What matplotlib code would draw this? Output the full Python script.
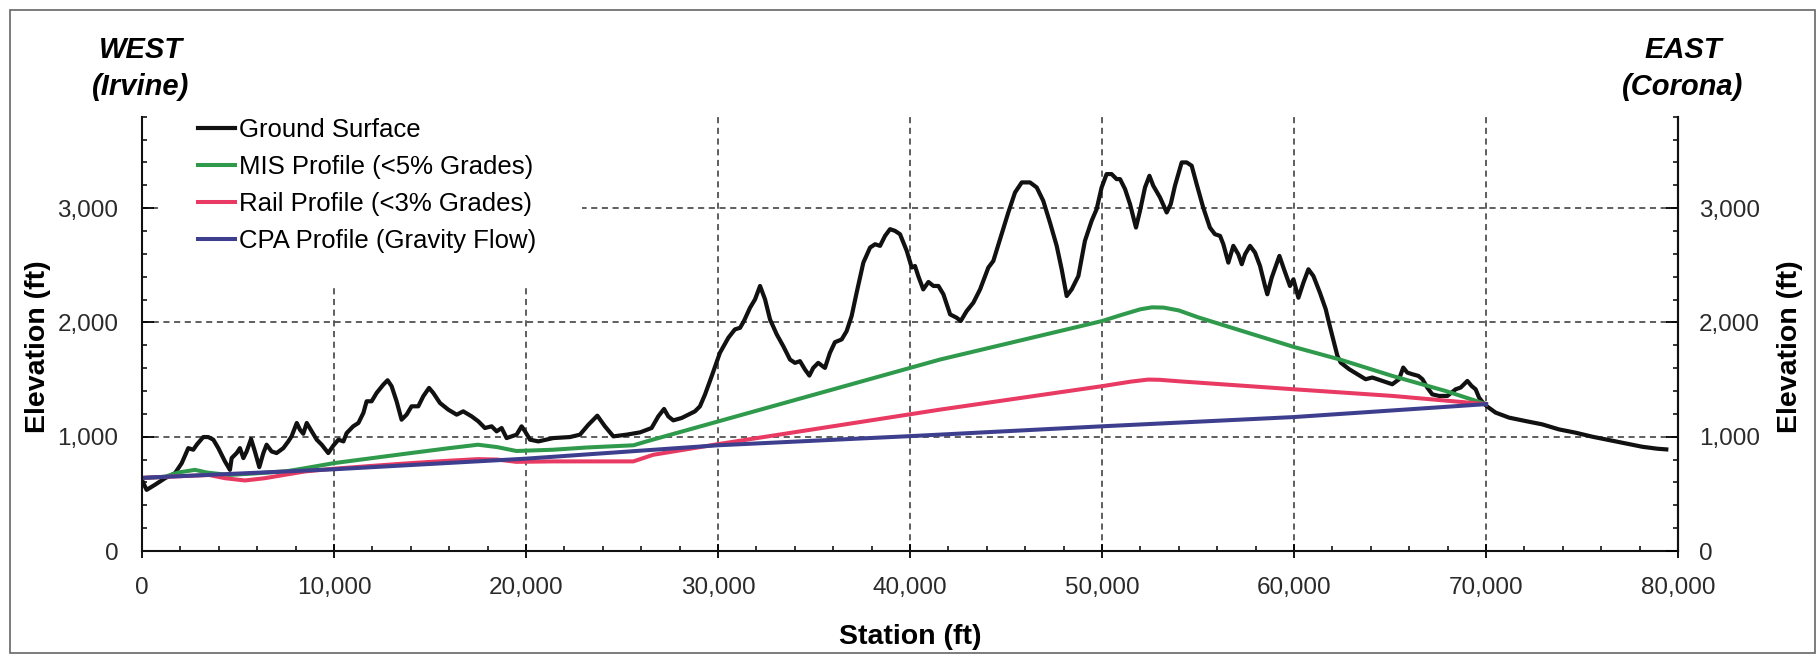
import matplotlib
matplotlib.use("Agg")
import matplotlib.pyplot as plt
from matplotlib.patches import Rectangle
from matplotlib.ticker import MultipleLocator, StrMethodFormatter

plt.rcParams['font.family'] = ['Liberation Sans', 'DejaVu Sans']

# ground surface (station ft, elevation ft)
ground_station = [0, 240, 680, 1200, 1720, 2070, 2410, 2670, 2850, 3190, 3450, 3715, 3975, 4320, 4580,
                  4670, 4930, 5100, 5280, 5450, 5680, 5880, 6110, 6320, 6490, 6750, 7010, 7360, 7620,
                  7790, 8060, 8230, 8400, 8580, 8840, 9100, 9360, 9700, 9960, 10230, 10490, 10660,
                  11000, 11270, 11530, 11700, 11960, 12220, 12570, 12790, 13000, 13260, 13520, 13780,
                  14040, 14390, 14650, 14950, 15170, 15520, 15950, 16390, 16730, 17170, 17520, 17860,
                  18210, 18470, 18730, 18990, 19250, 19510, 19770, 19950, 20210, 20640, 21420, 22290,
                  22810, 23250, 23715, 24110, 24550, 25240, 25940, 26540, 26890, 27190, 27410, 27670,
                  28110, 28450, 28800, 29060, 29320, 29670, 30100, 30540, 30880, 31150, 31350, 31670,
                  31930, 32190, 32450, 32710, 33060, 33400, 33750, 34010, 34270, 34530, 34760, 34960,
                  35220, 35570, 35830, 36090, 36440, 36700, 36960, 37220, 37570, 37920, 38180, 38440,
                  38700, 38960, 39220, 39480, 39830, 40090, 40260, 40430, 40690, 40960, 41220, 41480,
                  41740, 42090, 42430, 42640, 42950, 43300, 43650, 44080, 44340, 44690, 45120, 45470,
                  45820, 46250, 46600, 46940, 47290, 47640, 47900, 48160, 48420, 48770, 49110, 49460,
                  49720, 49980, 50240, 50500, 50760, 50940, 51200, 51460, 51770, 51980, 52240, 52470,
                  52670, 53020, 53370, 53580, 53800, 54150, 54410, 54670, 54930, 55270, 55620, 55880,
                  56150, 56320, 56580, 56840, 57100, 57280, 57450, 57710, 57970, 58230, 58490, 58610,
                  58840, 59240, 59480, 59790, 59970, 60230, 60490, 60750, 61010, 61350, 61650, 61860,
                  62080, 62260, 62430, 62870, 63300, 63730, 64080, 64600, 65120, 65470, 65690, 65900,
                  66160, 66480, 66690, 66940, 67200, 67550, 67990, 68420, 68680, 69030, 69250, 69460,
                  69640, 69840, 70070, 70500, 71200, 72060, 72930, 73800, 74670, 75540, 76400, 77270,
                  78140, 78920, 79390]
ground_elev = [620, 535, 580, 637, 681, 769, 900, 886, 930, 997, 997, 974, 900, 784, 710,
               813, 857, 900, 813, 871, 980, 871, 734, 857, 930, 871, 857, 900, 959,
               1003, 1120, 1061, 1026, 1120, 1047, 974, 930, 857, 921, 974, 959, 1032,
               1091, 1120, 1208, 1310, 1310, 1383, 1456, 1494, 1442, 1310, 1149, 1193,
               1266, 1266, 1354, 1427, 1383, 1295, 1237, 1193, 1222, 1178, 1134, 1076,
               1091, 1047, 1076, 988, 1003, 1018, 1091, 1047, 974, 959, 988, 997,
               1018, 1105, 1184, 1091, 1003, 1018, 1038, 1076, 1178, 1243, 1178, 1143,
               1164, 1193, 1222, 1266, 1368, 1529, 1734, 1866, 1939, 1953, 2012, 2129,
               2202, 2319, 2202, 2026, 1895, 1792, 1675, 1646, 1661, 1588, 1535, 1602,
               1646, 1602, 1734, 1827, 1851, 1924, 2056, 2260, 2523, 2655, 2684, 2670,
               2757, 2816, 2801, 2772, 2626, 2480, 2494, 2406, 2289, 2354, 2319, 2319,
               2246, 2070, 2041, 2012, 2099, 2173, 2289, 2480, 2538, 2728, 2962, 3137,
               3225, 3225, 3181, 3064, 2874, 2670, 2465, 2231, 2289, 2406, 2713, 2889,
               2991, 3181, 3298, 3298, 3254, 3254, 3167, 3035, 2830, 2977, 3181, 3283,
               3196, 3094, 2962, 3035, 3196, 3400, 3400, 3371, 3210, 3006, 2830, 2772,
               2757, 2684, 2523, 2670, 2596, 2509, 2596, 2670, 2611, 2494, 2319, 2246,
               2392, 2582, 2465, 2319, 2377, 2216, 2348, 2465, 2406, 2260, 2117, 1971,
               1825, 1708, 1649, 1591, 1547, 1503, 1518, 1488, 1459, 1503, 1605, 1561,
               1547, 1532, 1503, 1430, 1371, 1357, 1357, 1415, 1430, 1488, 1444, 1415,
               1342, 1298, 1263, 1211, 1167, 1137, 1108, 1064, 1035, 1000, 971, 942,
               912, 895, 889]

mis_station = [0, 1200, 1900, 2760, 3370, 4500, 6000, 7500, 8500, 10000, 12000, 14000, 16000,
               17500, 18500, 19500, 21400, 23200, 25600, 26300, 41560, 50000, 51000, 52000, 52600,
               53200, 54000, 55000, 57880, 60000, 62400, 65120, 67900, 70000]
mis_elev = [637, 650, 687, 710, 687, 665, 680, 697, 725, 769, 813, 857, 900,
            930, 909, 875, 886, 906, 925, 960, 1675, 2012, 2065, 2115, 2132,
            2130, 2105, 2045, 1895, 1785, 1675, 1532, 1400, 1285]

rail_station = [0, 3500, 4320, 5360, 6400, 7450, 8490, 10000, 12000, 14000, 16000, 17500,
                18500, 19500, 21400, 25590, 26630, 30000, 41560, 50000, 51500, 52400, 53000,
                54000, 60000, 65120, 70000]
rail_elev = [640, 665, 637, 617, 637, 667, 696, 720, 745, 769, 790, 804,
             800, 780, 784, 784, 842, 935, 1237, 1442, 1482, 1500, 1498,
             1485, 1415, 1357, 1285]

cpa_station = [0, 10000, 20000, 30000, 40000, 50000, 60000, 70000]
cpa_elev = [640, 715, 808, 925, 1005, 1091, 1172, 1285]

series_names = ['Ground Surface', 'MIS Profile (<5% Grades)',
                'Rail Profile (<3% Grades)', 'CPA Profile (Gravity Flow)']
series_colors = ['#111111', '#2f9a4c', '#e83a62', '#3d3f8e']

W, H = 1819, 658
fig = plt.figure(figsize=(W / 100, H / 100), dpi=100)
ax = fig.add_axes([142 / W, 1 - 551 / H, (1678 - 142) / W, (551 - 116.7) / H])
ax.set_axisbelow(True)

ax.plot(ground_station, ground_elev, color=series_colors[0], lw=3.0, label=series_names[0],
        zorder=2, solid_joinstyle='round')
ax.plot(mis_station, mis_elev, color=series_colors[1], lw=2.9, label=series_names[1], zorder=2.1)
ax.plot(rail_station, rail_elev, color=series_colors[2], lw=2.9, label=series_names[2], zorder=2.2)
ax.plot(cpa_station, cpa_elev, color=series_colors[3], lw=2.9, label=series_names[3], zorder=2.3)

ax.set_xlim(0, 80000)
ax.set_ylim(0, 3800)
ax.xaxis.set_major_locator(MultipleLocator(10000))
ax.xaxis.set_minor_locator(MultipleLocator(2000))
ax.yaxis.set_major_locator(MultipleLocator(1000))
ax.yaxis.set_minor_locator(MultipleLocator(200))
ax.xaxis.set_major_formatter(StrMethodFormatter('{x:,.0f}'))
ax.yaxis.set_major_formatter(StrMethodFormatter('{x:,.0f}'))

ax.grid(True, which='major', color='#333333', lw=1.1, ls=(0, (4, 3)))

ax.tick_params(axis='y', which='major', direction='in', length=8.5, width=1.3, pad=17,
               labelsize=17.5, labelcolor='#2a2a2a')
ax.tick_params(axis='y', which='minor', direction='in', length=3.6, width=1.1)
ax.tick_params(axis='x', which='major', direction='inout', length=10, width=1.3, pad=14,
               labelsize=17.5, labelcolor='#2a2a2a')
ax.tick_params(axis='x', which='minor', direction='in', length=3.6, width=1.1)

for side in ['left', 'bottom', 'right']:
    ax.spines[side].set_linewidth(1.5)
    ax.spines[side].set_color('#111111')
ax.spines['top'].set_visible(False)

ax2 = ax.twinx()
ax2.set_ylim(ax.get_ylim())
ax2.yaxis.set_major_locator(MultipleLocator(1000))
ax2.yaxis.set_minor_locator(MultipleLocator(200))
ax2.yaxis.set_major_formatter(StrMethodFormatter('{x:,.0f}'))
ax2.tick_params(axis='y', which='major', direction='in', length=8.5, width=1.3, pad=15,
                labelsize=17.5, labelcolor='#2a2a2a')
ax2.tick_params(axis='y', which='minor', direction='in', length=3.6, width=1.1)
for side in ['left', 'bottom', 'top']:
    ax2.spines[side].set_visible(False)
ax2.spines['right'].set_linewidth(1.5)
ax2.spines['right'].set_color('#111111')

# white block behind the legend hides the grid there
ax.add_patch(Rectangle((0.0104, 0.608), 0.2761, 0.392, transform=ax.transAxes,
                       facecolor='white', edgecolor='none', zorder=1))

ax.legend(loc='upper left', bbox_to_anchor=(198 / W, 1 - 118 / H), bbox_transform=fig.transFigure,
          frameon=False, fontsize=18.5, borderpad=0, borderaxespad=0, handlelength=1.45,
          handletextpad=0.15, labelspacing=0.5)

lab = dict(fontsize=20.5, fontweight='bold', ha='center', va='center')
fig.text(910 / W, 1 - 637 / H, 'Station (ft)', **lab)
fig.text(38 / W, 1 - 347 / H, 'Elevation (ft)', rotation=90, **lab)
fig.text(1790 / W, 1 - 347 / H, 'Elevation (ft)', rotation=90, **lab)

side = dict(fontsize=21, fontweight='bold', fontstyle='italic', ha='center', va='center')
fig.text(141 / W, 1 - 50 / H, 'WEST', **side)
fig.text(141 / W, 1 - 87 / H, '(Irvine)', **side)
fig.text(1683 / W, 1 - 50 / H, 'EAST', **side)
fig.text(1683 / W, 1 - 87 / H, '(Corona)', **side)

fig.patches.append(Rectangle((10 / W, 1 - 653 / H), 1805 / W, 643 / H, transform=fig.transFigure,
                             facecolor='none', edgecolor='#666666', lw=1.2))

fig.savefig('out.png', dpi=100)
